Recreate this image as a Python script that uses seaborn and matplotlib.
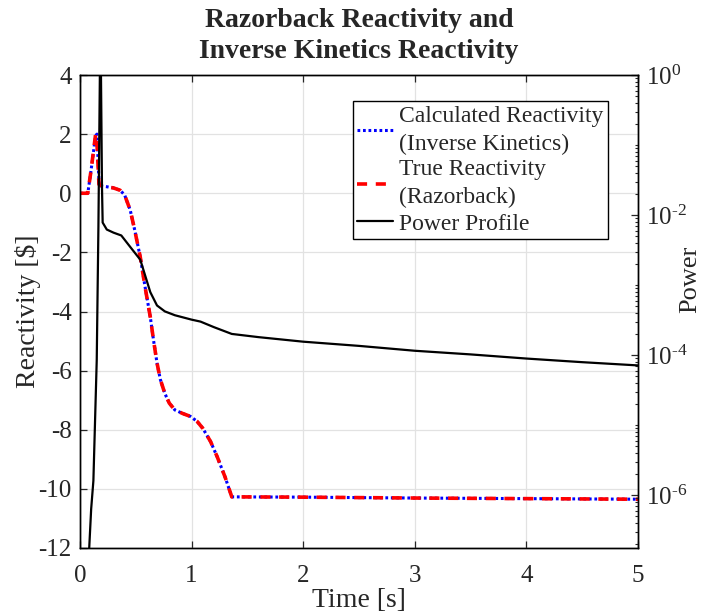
import numpy as np
import pandas as pd
import matplotlib
matplotlib.use("Agg")
import matplotlib.pyplot as plt
import matplotlib.ticker as mticker
import seaborn as sns

# Reactivity traces [$] versus time [s]
t_true = [0.0, 0.07, 0.10, 0.14, 0.148, 0.17, 0.20, 0.24, 0.30, 0.36, 0.40, 0.45, 0.49,
          0.54, 0.58, 0.63, 0.66, 0.69, 0.72, 0.76, 0.80, 0.85, 0.92, 0.99, 1.05, 1.10,
          1.17, 1.23, 1.30, 1.36, 2.0, 3.0, 4.0, 5.0]
rho_true = [0.0, 0.0, 0.8, 2.0, 2.0, 0.3, 0.24, 0.22, 0.18, 0.10, -0.06, -0.57, -1.24,
            -2.16, -3.1, -4.19, -5.0, -5.74, -6.3, -6.77, -7.1, -7.33, -7.45, -7.55, -7.72,
            -7.95, -8.4, -8.92, -9.6, -10.27, -10.28, -10.31, -10.33, -10.35]

t_calc = [0.0, 0.07, 0.10, 0.14, 0.152, 0.172, 0.20, 0.24, 0.30, 0.36, 0.40, 0.45, 0.49,
          0.54, 0.58, 0.63, 0.66, 0.69, 0.72, 0.76, 0.80, 0.85, 0.92, 0.99, 1.05, 1.10,
          1.17, 1.23, 1.30, 1.36, 2.0, 3.0, 4.0, 5.0]
rho_calc = [0.0, 0.0, 0.8, 1.95, 2.0, 0.25, 0.24, 0.22, 0.18, 0.10, -0.06, -0.57, -1.24,
            -2.16, -3.1, -4.19, -5.0, -5.74, -6.3, -6.77, -7.1, -7.33, -7.45, -7.55, -7.72,
            -7.95, -8.4, -8.92, -9.6, -10.27, -10.28, -10.31, -10.33, -10.35]

# Normalised power profile
t_power = [0.075, 0.083, 0.10, 0.12, 0.15, 0.165, 0.178, 0.183, 0.188, 0.197, 0.203,
           0.24, 0.30, 0.37, 0.45, 0.54, 0.63, 0.69, 0.76, 0.85, 1.0, 1.08, 1.2, 1.36,
           1.6, 2.0, 2.5, 3.0, 3.5, 4.0, 4.5, 5.0]
power = [1.0e-7, 1.8e-7, 6.3e-7, 1.6e-6, 8.5e-5, 6.8e-3, 1.0, 2.5, 1.0, 2.5e-2, 7.8e-3,
         6.2e-3, 5.6e-3, 5.1e-3, 3.5e-3, 2.3e-3, 7.9e-4, 5.1e-4, 4.2e-4, 3.7e-4, 3.2e-4,
         3.0e-4, 2.5e-4, 2.0e-4, 1.8e-4, 1.55e-4, 1.35e-4, 1.15e-4, 1.02e-4, 8.9e-5,
         7.9e-5, 7.1e-5]

x_ticks = [0, 1, 2, 3, 4, 5]
rho_ticks = [-12, -10, -8, -6, -4, -2, 0, 2, 4]
power_ticks = [1e-6, 1e-4, 1e-2, 1e0]
power_tick_labels = [r"$10^{\text{-}6}$", r"$10^{\text{-}4}$", r"$10^{\text{-}2}$", r"$10^{0}$"]

sns.set_style("ticks")
plt.rcParams["font.family"] = ["Liberation Serif", "DejaVu Serif"]
plt.rcParams["mathtext.fontset"] = "custom"
plt.rcParams["mathtext.rm"] = "Liberation Serif"
plt.rcParams["mathtext.it"] = "Liberation Serif"
plt.rcParams["axes.unicode_minus"] = False

fig = plt.figure(figsize=(7.03, 6.15), dpi=100)
ax = fig.add_axes([80 / 703, 1 - 548 / 615, 558 / 703, 473 / 615])
ax2 = ax.twinx()

df_calc = pd.DataFrame({"t": t_calc, "rho": rho_calc})
df_true = pd.DataFrame({"t": t_true, "rho": rho_true})
df_pow = pd.DataFrame({"t": t_power, "p": power})

sns.lineplot(data=df_calc, x="t", y="rho", ax=ax, color="#0000ff", lw=2.2,
             label="Calculated Reactivity\n(Inverse Kinetics)", legend=False)
sns.lineplot(data=df_true, x="t", y="rho", ax=ax, color="#ff0000", lw=2.6,
             label="True Reactivity\n(Razorback)", legend=False)
ax.lines[0].set_dashes((0.9, 0.9))
ax.lines[1].set_dashes((2.8, 2.4))
ax.lines[1].set_zorder(2.1)

sns.lineplot(data=df_pow, x="t", y="p", ax=ax2, color="black", lw=1.6,
             label="Power Profile", legend=False)

# Left axis
ax.set_xlim(0, 5)
ax.set_ylim(-12, 4)
ax.set_xticks(x_ticks)
ax.set_yticks(rho_ticks)
ax.set_xlabel("Time [s]", fontsize=20, labelpad=1)
ax.set_ylabel("Reactivity [$]", fontsize=20, labelpad=-2)
ax.grid(True, color="#e2e2e2", lw=0.9)
ax.set_axisbelow(True)
ax.tick_params(axis="both", direction="in", labelsize=18, length=5, width=0.9,
               top=True, pad=6)
ax.tick_params(axis="x", pad=12)
ax.tick_params(axis="y", right=False)

# Right (log) axis
ax2.set_yscale("log")
ax2.set_ylim(1.75e-7, 1.0)
ax2.set_yticks(power_ticks)
ax2.set_yticklabels(power_tick_labels)
ax2.yaxis.set_minor_locator(mticker.LogLocator(base=10, subs=np.arange(1, 10), numticks=30))
ax2.yaxis.set_minor_formatter(mticker.NullFormatter())
ax2.set_ylabel("Power", fontsize=19, rotation=90)
ax2.yaxis.set_label_coords(1.094, 0.567)
ax2.yaxis.label.set_verticalalignment("center")
ax2.tick_params(axis="y", which="major", direction="in", labelsize=18, length=5,
                width=0.9, pad=6)
ax2.tick_params(axis="y", which="minor", direction="in", length=2.5, width=0.8)
ax2.set_xlabel("")

for a in (ax, ax2):
    for s in a.spines.values():
        s.set_color("black")
        s.set_linewidth(1.0)

ax.set_title("Razorback Reactivity and\nInverse Kinetics Reactivity",
             fontsize=20, fontweight="bold", pad=12, linespacing=1.35)

handles = ax.get_lines()[:2] + ax2.get_lines()[:1]
labels = [h.get_label() for h in handles]
leg = ax2.legend(handles, labels, loc="upper right", bbox_to_anchor=(0.946, 0.945),
                 borderaxespad=0, fontsize=17, frameon=True, fancybox=False,
                 edgecolor="black", framealpha=1, handlelength=1.5, handletextpad=0.25,
                 labelspacing=0.2, borderpad=0.2)
for txt in leg.get_texts():
    txt.set_linespacing(1.42)
leg.get_frame().set_linewidth(1.0)

fig.savefig("out.png", dpi=100)
